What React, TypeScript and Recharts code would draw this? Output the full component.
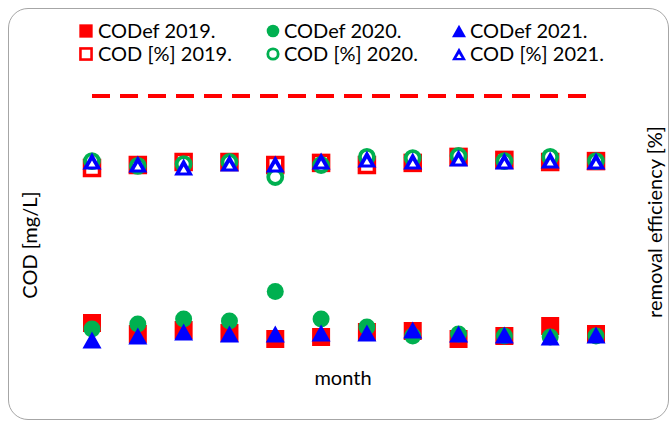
import React from 'react';
import { ComposedChart, Scatter, Line, XAxis, YAxis, Customized } from 'recharts';

const months = ['1', '2', '3', '4', '5', '6', '7', '8', '9', '10', '11', '12'];

// effluent COD [mg/L] (left axis)
const codEf2019 = [18.5, 13, 15, 13.5, 10.5, 11.5, 14, 14.5, 10.5, 12, 17, 13];
const codEf2020 = [15.5, 18, 20.5, 19.5, 34.3, 20.5, 16.5, 12, 13, 12, 11.5, 12];
const codEf2021 = [10, 12, 14, 13, 13, 13.5, 13.5, 15, 13, 12.5, 11.5, 12.5];

// COD removal efficiency [%] (right axis)
const codPct2019 = [64, 65, 66, 66, 65, 65.7, 65, 65.7, 67.7, 66.7, 66, 66.3];
const codPct2020 = [66.3, 64.7, 65.3, 66, 61, 65, 67.7, 67.3, 68, 66.3, 67.7, 66.3];
const codPct2021 = [66.3, 65.3, 64.3, 65.7, 65.3, 66.3, 67, 66.3, 67.3, 66.3, 66.7, 66.3];

// limit line [mg/L]
const limitValues = [132, 132, 132, 132, 132, 132, 132, 132, 132, 132, 132, 132];

const legendLabels = [
  'CODef 2019.', 'CODef 2020.', 'CODef 2021.',
  'COD [%] 2019.', 'COD [%] 2020.', 'COD [%] 2021.',
];

const RED = '#FF0000';
const GREEN = '#00B050';
const BLUE = '#0000FF';
const FONT = 'Lato, "Noto Sans", sans-serif';

const data = months.map((m, i) => ({
  month: m,
  codEf2019: codEf2019[i],
  codEf2020: codEf2020[i],
  codEf2021: codEf2021[i],
  codPct2019: codPct2019[i],
  codPct2020: codPct2020[i],
  codPct2021: codPct2021[i],
  limit: limitValues[i],
}));

const FilledSquare = (p: any) => (
  <rect x={p.cx - 9} y={p.cy - 9} width={18} height={18} fill={RED} />
);
const HollowSquare = (p: any) => (
  <rect x={p.cx - 7.5} y={p.cy - 7.5} width={15} height={15} fill="#fff" stroke={RED} strokeWidth={3.5} />
);
const FilledCircle = (p: any) => <circle cx={p.cx} cy={p.cy} r={8.5} fill={GREEN} />;
const HollowCircle = (p: any) => (
  <circle cx={p.cx} cy={p.cy} r={7} fill="#fff" stroke={GREEN} strokeWidth={3.8} />
);
const triPts = (cx: number, cy: number, w: number, h: number) =>
  `${cx},${cy - h / 2} ${cx + w / 2},${cy + h / 2} ${cx - w / 2},${cy + h / 2}`;
const FilledTriangle = (p: any) => <polygon points={triPts(p.cx, p.cy, 19, 17)} fill={BLUE} />;
const HollowTriangle = (p: any) => (
  <g>
    <polygon points={triPts(p.cx, p.cy, 19, 17)} fill={BLUE} />
    <polygon points={triPts(p.cx, p.cy + 2.5, 7, 6)} fill="#fff" />
  </g>
);

const legendShapes = [FilledSquare, FilledCircle, FilledTriangle, HollowSquare, HollowCircle, HollowTriangle];

const Overlay = () => {
  const colMarker = [86, 273, 459];
  const colText = [98, 284, 470];
  const rowCenter = [31, 54];
  return (
    <g fontFamily={FONT}>
      {legendLabels.map((lab, i) => {
        const c = i % 3;
        const r = Math.floor(i / 3);
        const Shape = legendShapes[i];
        return (
          <g key={lab}>
            <g transform={`translate(${colMarker[c]},${rowCenter[r]}) scale(0.74) translate(${-colMarker[c]},${-rowCenter[r]})`}>
              <Shape cx={colMarker[c]} cy={rowCenter[r]} />
            </g>
            <text x={colText[c]} y={rowCenter[r] + 7} fontSize={20} fill="#000">
              {lab}
            </text>
          </g>
        );
      })}
      <text x={343} y={385} fontSize={20} textAnchor="middle" fill="#000">month</text>
      <text x={37} y={245} fontSize={20} textAnchor="middle" fill="#000" transform="rotate(-90, 37, 245)">
        COD [mg/L]
      </text>
      <text x={662} y={222} fontSize={20} textAnchor="middle" fill="#000" transform="rotate(-90, 662, 222)">
        removal efficiency [%]
      </text>
    </g>
  );
};

export default function App() {
  return (
    <div style={{ position: 'relative', width: 670, height: 421 }}>
      <style>{'body{margin:0;}'}</style>
      <div
        style={{
          position: 'absolute',
          left: 8,
          top: 8,
          width: 661,
          height: 412,
          boxSizing: 'border-box',
          border: '1px solid #a6a6a6',
          borderRadius: 20,
          background: '#fff',
        }}
      />
      <div style={{ position: 'absolute', left: 0, top: 0 }}>
        <ComposedChart
          width={670}
          height={421}
          data={data}
          margin={{ top: 60, right: 74, bottom: 61, left: 92 }}
        >
          <XAxis dataKey="month" type="category" hide />
          <YAxis yAxisId="left" domain={[0, 150]} hide />
          <YAxis yAxisId="right" orientation="right" domain={[0, 100]} hide />
          <Line
            yAxisId="left"
            dataKey="limit"
            stroke={RED}
            strokeWidth={4}
            strokeDasharray="18 10"
            dot={false}
            activeDot={false}
            isAnimationActive={false}
          />
          <Scatter yAxisId="left" dataKey="codEf2019" shape={FilledSquare} isAnimationActive={false} />
          <Scatter yAxisId="left" dataKey="codEf2020" shape={FilledCircle} isAnimationActive={false} />
          <Scatter yAxisId="left" dataKey="codEf2021" shape={FilledTriangle} isAnimationActive={false} />
          <Scatter yAxisId="right" dataKey="codPct2019" shape={HollowSquare} isAnimationActive={false} />
          <Scatter yAxisId="right" dataKey="codPct2020" shape={HollowCircle} isAnimationActive={false} />
          <Scatter yAxisId="right" dataKey="codPct2021" shape={HollowTriangle} isAnimationActive={false} />
          <Customized component={Overlay} />
        </ComposedChart>
      </div>
    </div>
  );
}
